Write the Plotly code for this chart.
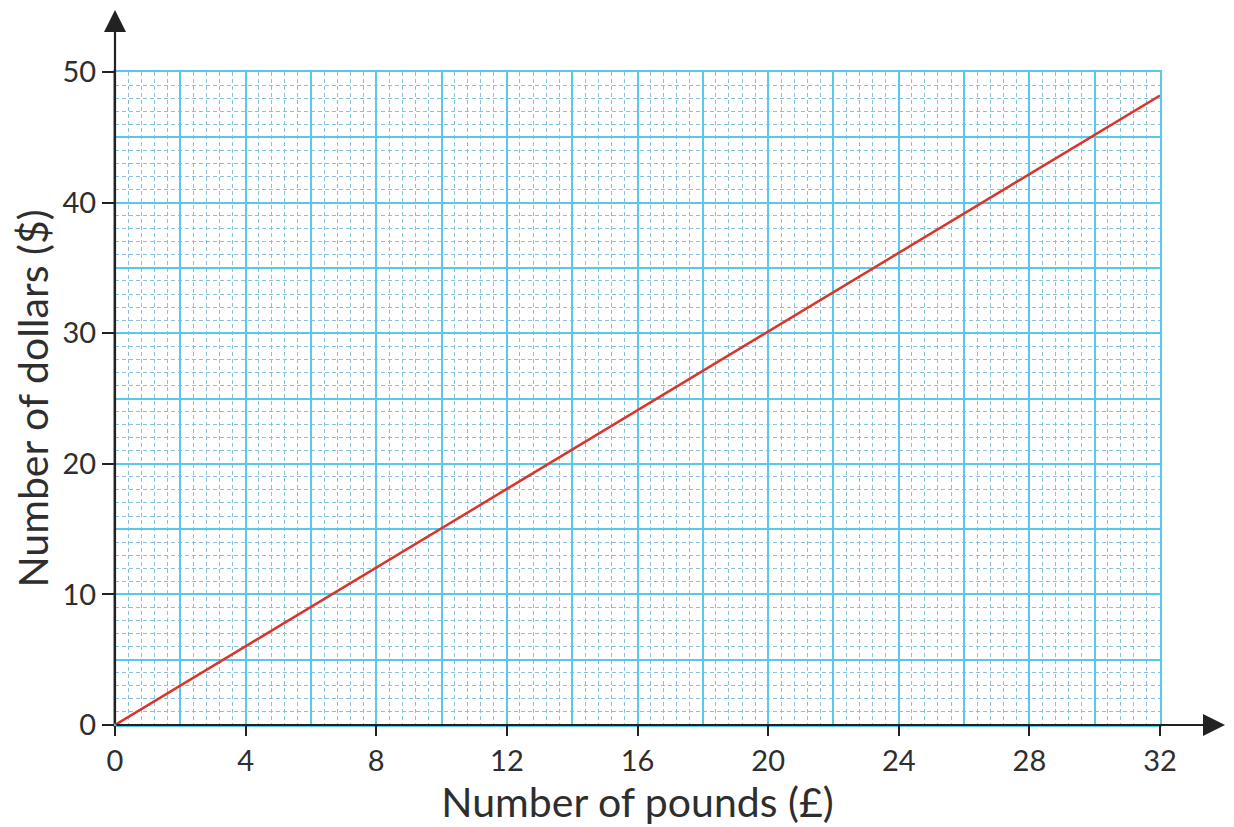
import plotly.graph_objects as go

# Data
pounds = [0, 32]
dollars = [0, 48.2]
x_tick_vals = [0, 4, 8, 12, 16, 20, 24, 28, 32]
x_tick_text = ["0", "4", "8", "12", "16", "20", "24", "28", "32"]
y_tick_vals = [0, 10, 20, 30, 40, 50]
y_tick_text = ["0", "10", "20", "30", "40", "50"]
x_title = "Number of pounds (£)"
y_title = "Number of dollars ($)"

FONT = "Lato"
TXT = "#2e2e2e"
MAJOR = "#5ac8ea"
MINOR = "#86c2dc"
AXIS = "#222222"

fig = go.Figure()
fig.add_trace(go.Scatter(x=pounds, y=dollars, mode="lines",
                         line=dict(color="#d8352b", width=2.5),
                         xaxis="x", yaxis="y", hoverinfo="skip", showlegend=False))
fig.add_trace(go.Scatter(x=pounds, y=dollars, mode="lines",
                         line=dict(color="rgba(0,0,0,0)", width=0),
                         xaxis="x2", yaxis="y2", hoverinfo="skip", showlegend=False))

grid_common = dict(showticklabels=False, ticks="", showgrid=True, zeroline=False,
                   gridcolor=MAJOR, gridwidth=1.8, showline=True, linecolor=MAJOR,
                   linewidth=1.8, mirror=True, tick0=0)

fig.update_layout(
    width=1226, height=819,
    margin=dict(l=107, r=74, t=64, b=102),
    paper_bgcolor="white", plot_bgcolor="white",
    font=dict(family=FONT, color=TXT),
    xaxis=dict(range=[0, 32], dtick=2,
               minor=dict(dtick=0.4, showgrid=True, gridcolor=MINOR, gridwidth=1,
                          griddash="4px,3px"),
               **grid_common),
    yaxis=dict(range=[0, 50], dtick=5,
               minor=dict(dtick=1, showgrid=True, gridcolor=MINOR, gridwidth=1,
                          griddash="4px,3px"),
               **grid_common),
    xaxis2=dict(overlaying="x", anchor="y2", side="bottom", range=[0, 32],
                tickmode="array", tickvals=x_tick_vals, ticktext=x_tick_text,
                ticks="outside", ticklen=10, tickwidth=2, tickcolor=AXIS,
                showgrid=False, zeroline=False, showline=False,
                tickfont=dict(size=29, color=TXT, family=FONT),
                title=dict(text=x_title, font=dict(size=41, color=TXT, family=FONT), standoff=2)),
    yaxis2=dict(overlaying="y", anchor="x2", side="left", range=[0, 50],
                tickmode="array", tickvals=y_tick_vals, ticktext=y_tick_text,
                ticks="outside", ticklen=12, tickwidth=2, tickcolor=AXIS,
                showgrid=False, zeroline=False, showline=False,
                tickfont=dict(size=29, color=TXT, family=FONT),
                title=dict(text=y_title, font=dict(size=41, color=TXT, family=FONT), standoff=2)),
    annotations=[
        dict(xref="x domain", yref="y domain", axref="x domain", ayref="y domain",
             x=1.0622, y=0, ax=0, ay=0, text="", showarrow=True,
             arrowhead=2, arrowsize=2, arrowwidth=2.2, arrowcolor=AXIS, standoff=0),
        dict(xref="x domain", yref="y domain", axref="x domain", ayref="y domain",
             x=0, y=1.095, ax=0, ay=0, text="", showarrow=True,
             arrowhead=2, arrowsize=2, arrowwidth=2.2, arrowcolor=AXIS, standoff=0),
    ],
)

fig.write_html("out.html")
